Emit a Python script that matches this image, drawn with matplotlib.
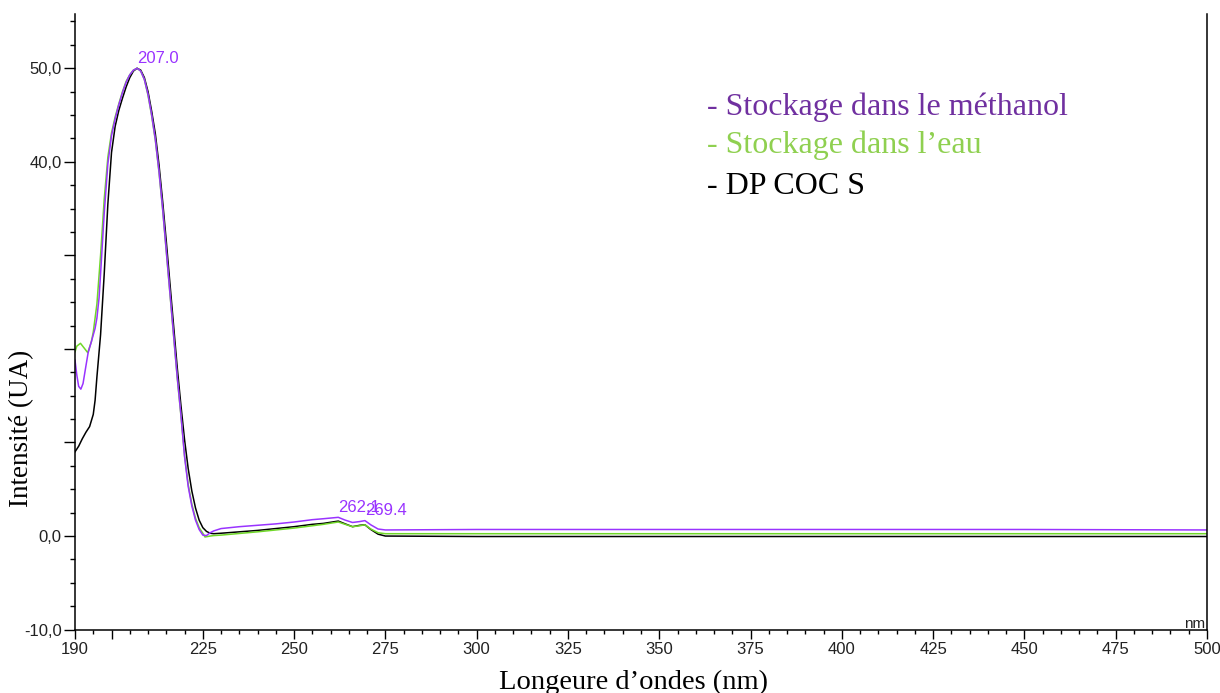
import numpy as np
import matplotlib
matplotlib.use("Agg")
import matplotlib.pyplot as plt
from matplotlib.ticker import MultipleLocator, FixedLocator, FixedFormatter

# --- data ---
wl_methanol = [190, 190.5, 191, 191.6, 192.2, 193, 193.6, 194.5, 195.5, 196, 196.6, 197, 198, 199,
               200, 201, 202, 203, 204, 205, 206, 207, 208, 209, 210, 211, 212, 213, 214, 215, 216,
               217, 218, 219, 220, 221, 222, 223, 224, 225, 226, 227, 228, 230, 235, 240, 245, 250,
               255, 258, 262.1, 264, 266, 268, 269.4, 271, 273, 275, 300, 350, 400, 450, 500]
int_methanol = [18.8, 17.2, 16.0, 15.7, 16.3, 18.2, 19.6, 20.8, 22.2, 23.3, 25.5, 28.0, 34.5, 39.8,
                42.8, 44.6, 46.1, 47.4, 48.5, 49.3, 49.8, 50.0, 49.7, 48.8, 47.2, 45.0, 42.4, 39.0, 35.0, 30.5, 26.0,
                21.5, 17.0, 13.0, 8.5, 5.3, 3.2, 1.7, 0.7, 0.1, 0.05, 0.35, 0.55, 0.8, 1.0, 1.15, 1.3, 1.5,
                1.75, 1.85, 2.0, 1.7, 1.45, 1.55, 1.65, 1.2, 0.75, 0.65, 0.7, 0.7, 0.7, 0.7, 0.65]

wl_eau = [190, 190.5, 191.5, 192.5, 193.5, 194.5, 195, 196, 197, 198, 199, 200,
          201, 202, 203, 204, 205, 206, 207, 208, 209, 210, 211, 212, 213, 214, 215, 216, 217, 218,
          219, 220, 221, 222, 223, 224, 225, 225.6, 227, 228, 230, 240, 250, 255, 258, 262.1, 264,
          266, 268, 269.4, 271, 273, 275, 300, 400, 500]
int_eau = [19.7, 20.3, 20.6, 20.1, 19.6, 20.8, 21.8, 24.8, 30.0, 36.0, 40.5, 43.1,
           44.8, 46.2, 47.5, 48.6, 49.3, 49.8, 50.0, 49.7, 48.8, 47.1, 44.9, 42.3, 38.9, 34.9, 30.4, 25.9, 21.4, 16.9,
           12.9, 8.6, 5.5, 3.4, 1.9, 0.9, 0.3, -0.1, 0.0, 0.05, 0.1, 0.45, 0.85, 1.1, 1.25, 1.5, 1.25,
           1.0, 1.1, 1.2, 0.75, 0.35, 0.25, 0.25, 0.25, 0.25]

wl_dpcoc = [190, 191, 192, 193, 194, 195, 195.5, 196, 197, 198, 199, 200,
            201, 202, 203, 204, 205, 206, 207, 208, 209, 210, 211, 212, 213, 214, 215, 216, 217, 218,
            219, 220, 221, 222, 223, 224, 225, 226, 227, 228, 230, 240, 250, 255, 258, 262.1, 264,
            266, 268, 269.4, 271, 273, 275, 300, 400, 500]
int_dpcoc = [9.0, 9.6, 10.4, 11.1, 11.7, 13.0, 14.5, 17.0, 21.5, 28.0, 35.5, 41.0,
             43.8, 45.5, 46.8, 48.0, 49.0, 49.7, 50.0, 49.8, 49.0, 47.5, 45.4, 43.0, 39.7, 35.8, 31.5, 27.0, 22.5, 18.0,
             14.0, 10.3, 7.2, 4.8, 3.0, 1.7, 0.9, 0.5, 0.3, 0.25, 0.3, 0.6, 1.0, 1.25, 1.35, 1.6, 1.3,
             1.0, 1.15, 1.2, 0.7, 0.2, 0.0, -0.05, -0.05, -0.05]

peak_wl = [207.0, 262.1, 269.4]
peak_int = [50.0, 2.0, 1.65]

legend_labels = ["- Stockage dans le méthanol", "- Stockage dans l\u2019eau", "- DP COC S"]

x_major = [190, 200, 225, 250, 275, 300, 325, 350, 375, 400, 425, 450, 475, 500]
x_major_labels = ["190", "", "225", "250", "275", "300", "325", "350", "375", "400", "425", "450", "475", "500"]
y_major = [-10, 0, 10, 20, 30, 40, 50]
y_major_labels = ["-10,0", "0,0", "", "", "", "40,0", "50,0"]

purple = "#9933ff"
green = "#70d828"

fig = plt.figure(figsize=(12.2, 6.93), dpi=100)
ax = fig.add_axes([75 / 1220, 1 - 629.6 / 693, 1132 / 1220, 615.6 / 693])

ax.plot(wl_dpcoc, int_dpcoc, color="black", lw=1.1)
ax.plot(wl_eau, int_eau, color=green, lw=1.1)
ax.plot(wl_methanol, int_methanol, color=purple, lw=1.1)

for w, v in zip(peak_wl, peak_int):
    ax.annotate(f"{w:.1f}", (w, v), xytext=(0, 10), textcoords="offset pixels",
                ha="left", va="center", color=purple, fontsize=12, family="Liberation Sans")

ax.set_xlim(190, 500)
ax.set_ylim(-10, 55.8)

ax.xaxis.set_major_locator(FixedLocator(x_major))
ax.xaxis.set_major_formatter(FixedFormatter(x_major_labels))
ax.xaxis.set_minor_locator(MultipleLocator(5))
ax.yaxis.set_major_locator(FixedLocator(y_major))
ax.yaxis.set_major_formatter(FixedFormatter(y_major_labels))
ax.yaxis.set_minor_locator(MultipleLocator(2.5))

ax.tick_params(axis="both", which="major", labelsize=12, labelcolor="#222222", width=1.0)
ax.tick_params(axis="x", which="major", length=6.5, pad=2.5)
ax.tick_params(axis="x", which="minor", length=3, width=1.0)
ax.tick_params(axis="y", which="major", length=8, pad=1.5)
ax.tick_params(axis="y", which="minor", length=3.6, width=1.0)
for lab in ax.get_xticklabels() + ax.get_yticklabels():
    lab.set_family("Liberation Sans")

ax.spines["top"].set_visible(False)
for s in ["left", "right", "bottom"]:
    ax.spines[s].set_linewidth(1.1)

ax.set_xlabel("Longeure d\u2019ondes (nm)", family="Liberation Serif", fontsize=20.5, va="center")
ax.xaxis.set_label_coords(0.4938, -0.0855)
ax.set_ylabel("Intensit\u00e9 (UA)", family="Liberation Serif", fontsize=19.5, va="center")
ax.yaxis.set_label_coords(-0.047, 0.3275)

ax.text(0.998, 0.009, "nm", transform=ax.transAxes, ha="right", va="center",
        fontsize=11, family="Liberation Sans", color="#222222")

legend_colors = ["#7030a0", "#8fd050", "black"]
legend_y = [107, 145, 186]
for lab, c, yy in zip(legend_labels, legend_colors, legend_y):
    fig.text(707 / 1220, 1 - yy / 693, lab, color=c, fontsize=23,
             family="Liberation Serif", ha="left", va="center")

fig.savefig("out.png", dpi=100)
